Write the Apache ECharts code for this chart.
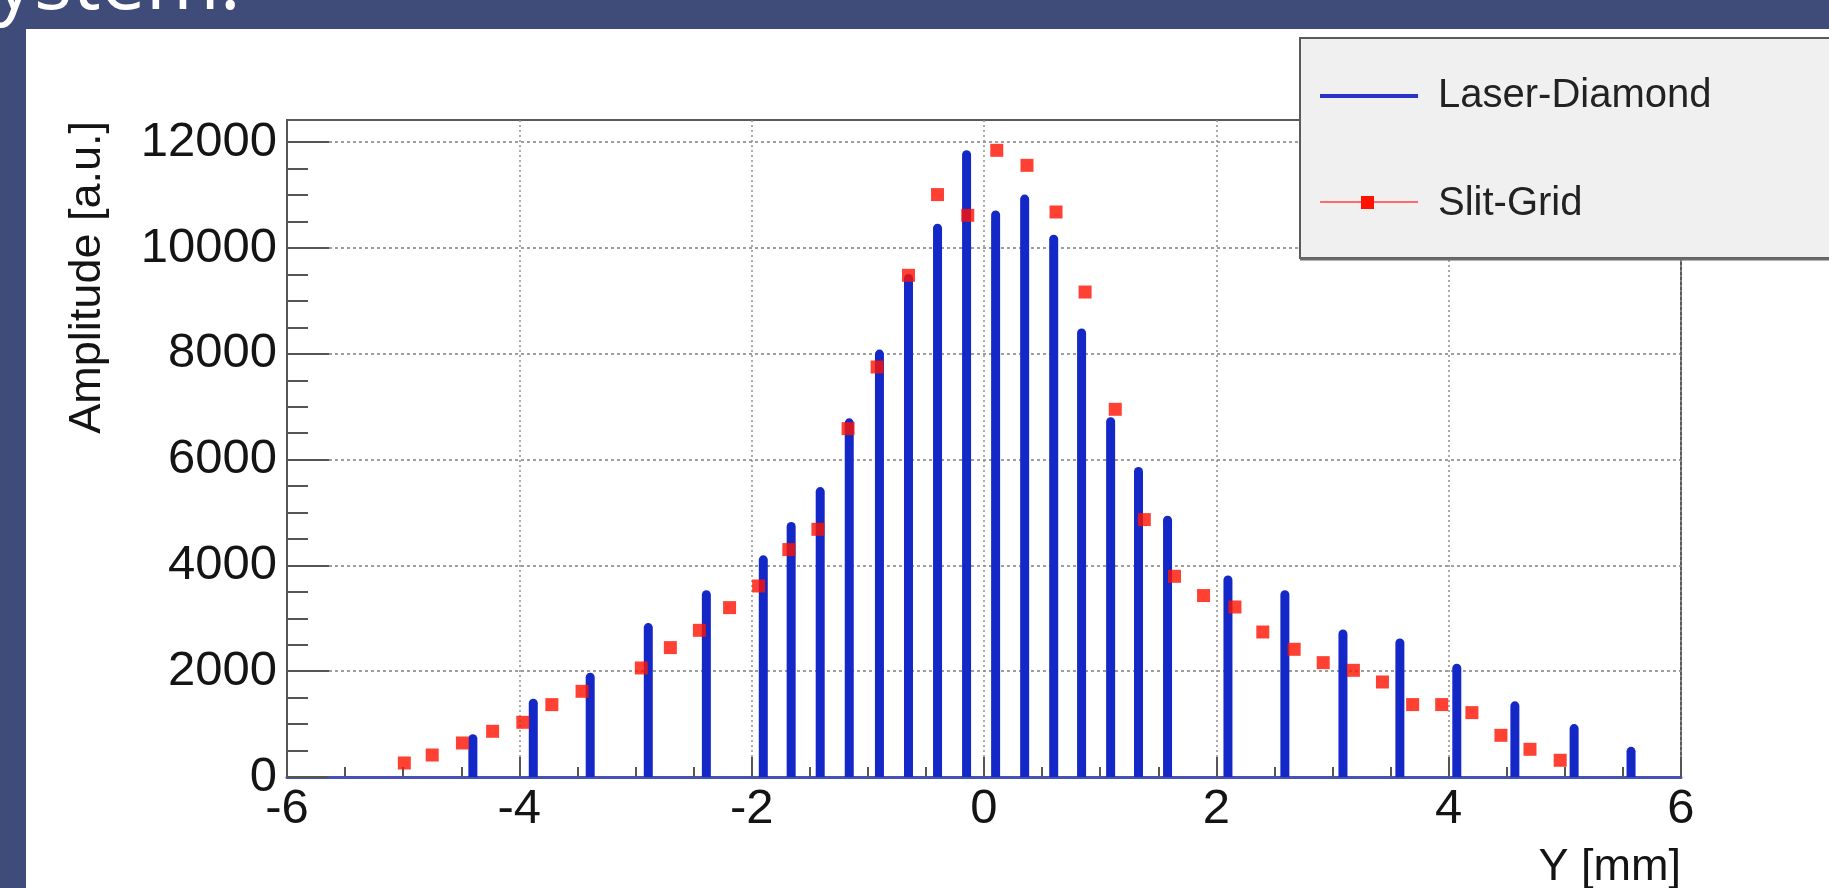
<!DOCTYPE html>
<html>
<head>
<meta charset="utf-8">
<title>Laser-Diamond vs Slit-Grid profile</title>
<script src="https://cdn.jsdelivr.net/npm/echarts@6/dist/echarts.min.js"></script>
<style>
  html, body { margin: 0; padding: 0; background: #3f4c7a; }
  #chart { width: 1829px; height: 888px; }
</style>
</head>
<body>
<div id="chart"></div>
<script>
// Laser-Diamond scan: beam position Y [mm] and measured amplitude [a.u.]
const laserY = [-4.40, -3.88, -3.39, -2.89, -2.39, -1.90, -1.66, -1.41, -1.16, -0.90,
                -0.65, -0.40, -0.15, 0.10, 0.35, 0.60, 0.84, 1.09, 1.33, 1.58,
                2.10, 2.59, 3.09, 3.58, 4.07, 4.57, 5.08, 5.57];
const laserAmp = [810, 1480, 1970, 2910, 3530, 4190, 4820, 5480, 6780, 8080,
                  9510, 10460, 11850, 10710, 11010, 10250, 8480, 6800, 5860, 4940,
                  3810, 3530, 2790, 2620, 2140, 1430, 1000, 570];

// Slit-Grid scan: position Y [mm] and amplitude [a.u.]
const slitY = [-4.99, -4.75, -4.49, -4.23, -3.97, -3.72, -3.46, -2.95, -2.70, -2.45,
               -2.19, -1.94, -1.68, -1.43, -1.17, -0.92, -0.65, -0.40, -0.14, 0.11,
               0.37, 0.62, 0.87, 1.13, 1.38, 1.64, 1.89, 2.16, 2.40, 2.67,
               2.92, 3.18, 3.43, 3.69, 3.94, 4.20, 4.45, 4.70, 4.96];
const slitAmp = [265, 416, 643, 864, 1034, 1368, 1620, 2061, 2446, 2773,
                 3202, 3611, 4299, 4682, 6586, 7751, 9484, 11010, 10618, 11847,
                 11563, 10681, 9168, 6951, 4866, 3794, 3430, 3214, 2741, 2414,
                 2162, 2017, 1796, 1369, 1369, 1217, 788, 524, 316];

// Axis ticks
const yMajorTicks = [0, 2000, 4000, 6000, 8000, 10000, 12000];
const yMinorTicks = [500, 1000, 1500, 2500, 3000, 3500, 4500, 5000, 5500,
                     6500, 7000, 7500, 8500, 9000, 9500, 10500, 11000, 11500];
const yRange = [0, 12420];
const xRange = [-6, 6];

// Texts
const slideTitle = 'ystem.';
const seriesNames = ['Laser-Diamond', 'Slit-Grid'];
const xTitle = 'Y [mm]';
const yTitle = 'Amplitude [a.u.]';

const BLUE = '#1428c8';
const RED = '#ff1200';
const INK = '#141414';
const FONT = '"Liberation Sans", Arial, Helvetica, sans-serif';

const laserData = laserY.map((y, i) => [y, laserAmp[i]]);
const slitData = slitY.map((y, i) => [y, slitAmp[i]]);

const plainNumber = v => String(v);

const chart = echarts.init(document.getElementById('chart'), null, { renderer: 'canvas' });

const option = {
  backgroundColor: '#3f4c7a',
  animation: false,
  grid: {
    left: 287, right: 148, top: 120, bottom: 111,
    show: true,
    borderColor: '#5a5a5a',
    borderWidth: 2,
    outerBoundsMode: 'none'
  },
  xAxis: {
    type: 'value',
    min: xRange[0], max: xRange[1], interval: 2,
    axisLine: { show: true, onZero: false, lineStyle: { color: '#4652b6', width: 3 } },
    axisTick: { show: true, inside: true, length: 20, lineStyle: { color: '#555', width: 2 } },
    minorTick: { show: true, splitNumber: 4, length: 10, lineStyle: { color: '#555', width: 2 } },
    axisLabel: { fontSize: 49, color: INK, fontFamily: FONT, margin: 8, hideOverlap: false,
                 formatter: plainNumber },
    splitLine: { show: true, lineStyle: { color: '#8f8f8f', width: 1.5, type: [2, 3] } }
  },
  yAxis: [
    {
      type: 'value',
      min: yRange[0], max: yRange[1], interval: 2000,
      axisLine: { show: true, onZero: false, lineStyle: { color: '#555', width: 2 } },
      axisTick: { show: true, inside: true, length: 42, customValues: yMajorTicks,
                  lineStyle: { color: '#555', width: 2 } },
      axisLabel: { customValues: yMajorTicks, fontSize: 49, color: INK, fontFamily: FONT,
                   margin: 10, hideOverlap: false, formatter: plainNumber },
      splitLine: { show: true, lineStyle: { color: '#7f7f7f', width: 1.5, type: [3, 3] } }
    },
    {
      type: 'value',
      position: 'left',
      min: yRange[0], max: yRange[1],
      axisLine: { show: false, onZero: false },
      axisTick: { show: true, inside: true, length: 21, customValues: yMinorTicks,
                  lineStyle: { color: '#555', width: 2 } },
      axisLabel: { show: false },
      splitLine: { show: false }
    }
  ],
  series: [
    {
      name: seriesNames[0],
      type: 'custom',
      xAxisIndex: 0,
      yAxisIndex: 0,
      data: laserData,
      encode: { x: 0, y: 1 },
      z: 3,
      renderItem: function (params, api) {
        const top = api.coord([api.value(0), api.value(1)]);
        const base = api.coord([api.value(0), 0]);
        const w = 9;
        return {
          type: 'rect',
          shape: { x: top[0] - w / 2, y: top[1], width: w, height: base[1] - top[1], r: [4.5, 4.5, 0, 0] },
          style: { fill: BLUE }
        };
      }
    },
    {
      name: seriesNames[1],
      type: 'scatter',
      xAxisIndex: 0,
      yAxisIndex: 0,
      data: slitData,
      symbol: 'rect',
      symbolSize: 13,
      itemStyle: { color: RED },
      z: 4
    }
  ],
  graphic: [
    // white slide panel
    { type: 'rect', z: -10, silent: true,
      shape: { x: 26, y: 29, width: 1803, height: 859 },
      style: { fill: '#ffffff' } },
    // slide heading, cut by the panel edge
    { type: 'text', z: -5, silent: true, x: -6, y: -14,
      style: { text: slideTitle, fill: '#ffffff', font: '80px "Open Sans", sans-serif',
               align: 'left', verticalAlign: 'middle' } },
    // axis titles
    { type: 'text', z: 10, silent: true, x: 88, y: 121, rotation: Math.PI / 2,
      style: { text: yTitle, fill: INK, font: '45px ' + FONT, align: 'right', verticalAlign: 'middle' } },
    { type: 'text', z: 10, silent: true, x: 1681, y: 868,
      style: { text: xTitle, fill: INK, font: '45px ' + FONT, align: 'right', verticalAlign: 'middle' } },
    // legend box
    { type: 'rect', z: 20, silent: true,
      shape: { x: 1300, y: 38, width: 560, height: 220 },
      style: { fill: '#f0f0f0', stroke: '#5a5a5a', lineWidth: 2 } },
    { type: 'line', z: 21, silent: true,
      shape: { x1: 1300, y1: 259, x2: 1829, y2: 259 },
      style: { stroke: '#6a6a6a', lineWidth: 3 } },
    { type: 'line', z: 21, silent: true,
      shape: { x1: 1320, y1: 96, x2: 1418, y2: 96 },
      style: { stroke: '#2a34c4', lineWidth: 4 } },
    { type: 'text', z: 21, silent: true, x: 1438, y: 96,
      style: { text: seriesNames[0], fill: '#222', font: '40px ' + FONT, align: 'left', verticalAlign: 'middle' } },
    { type: 'line', z: 21, silent: true,
      shape: { x1: 1320, y1: 202, x2: 1418, y2: 202 },
      style: { stroke: '#ff6a6a', lineWidth: 2 } },
    { type: 'rect', z: 22, silent: true,
      shape: { x: 1361, y: 196, width: 13, height: 13 },
      style: { fill: RED } },
    { type: 'text', z: 21, silent: true, x: 1438, y: 204,
      style: { text: seriesNames[1], fill: '#222', font: '40px ' + FONT, align: 'left', verticalAlign: 'middle' } }
  ]
};

chart.setOption(option);
</script>
</body>
</html>
